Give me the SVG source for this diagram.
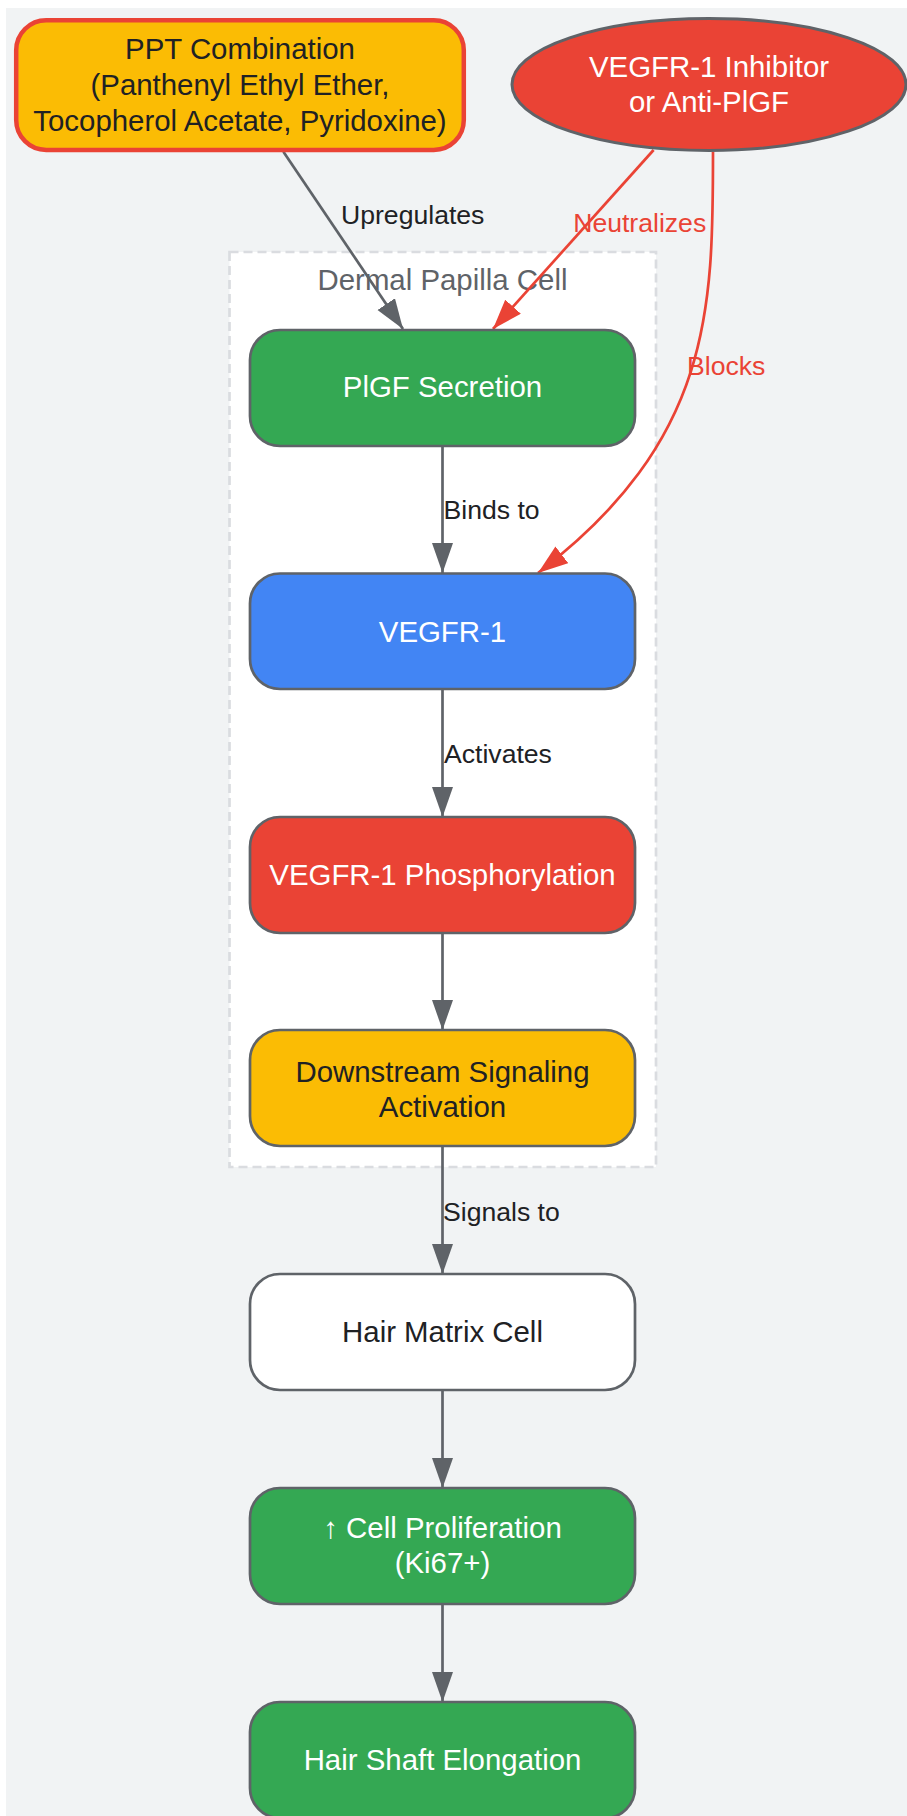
<svg xmlns="http://www.w3.org/2000/svg" width="907" height="1816" viewBox="0 0 907 1816">
<style>
.nt{font-family:"Liberation Sans",Arial,Helvetica,sans-serif;font-size:29.4px;text-anchor:middle}
.el{font-family:"Liberation Sans",Arial,Helvetica,sans-serif;font-size:26.6px;fill:#202124}
.w{fill:#ffffff}.d{fill:#202124}
.node{stroke:#5f6368;stroke-width:2.7}
.e{fill:none;stroke:#5f6368;stroke-width:2.7}
.r{fill:none;stroke:#ea4335;stroke-width:2.7}
</style>
<defs>
<marker id="ag" markerUnits="userSpaceOnUse" markerWidth="32" markerHeight="22" refX="30" refY="10.5" orient="auto">
<path d="M0,0 L30,10.5 L0,21 Z" fill="#5f6368"/>
</marker>
<marker id="ar" markerUnits="userSpaceOnUse" markerWidth="32" markerHeight="22" refX="30" refY="10.5" orient="auto">
<path d="M0,0 L30,10.5 L0,21 Z" fill="#ea4335"/>
</marker>
</defs>
<rect x="0" y="0" width="907" height="1816" fill="#ffffff"/>
<rect x="6" y="8" width="901" height="1808" fill="#f1f3f4"/>
<g id="cluster-dermal">
<rect x="229.5" y="252" width="426.5" height="915" fill="#ffffff" stroke="#dadce0" stroke-width="2.7" stroke-dasharray="9,5"/>
<text x="442.5" y="290" class="nt" fill="#5f6368">Dermal Papilla Cell</text>
</g>
<g id="edges">
<path class="e" d="M283.4,151.7 L403,329" marker-end="url(#ag)"/>
<path class="r" d="M653.6,150 L493,329" marker-end="url(#ar)"/>
<path class="r" d="M713,151.7 C713,310 712,440 538,573" marker-end="url(#ar)"/>
<path class="e" d="M442.5,446 L442.5,573" marker-end="url(#ag)"/>
<path class="e" d="M442.5,689 L442.5,817" marker-end="url(#ag)"/>
<path class="e" d="M442.5,933 L442.5,1030" marker-end="url(#ag)"/>
<path class="e" d="M442.5,1146 L442.5,1274" marker-end="url(#ag)"/>
<path class="e" d="M442.5,1390 L442.5,1488" marker-end="url(#ag)"/>
<path class="e" d="M442.5,1604 L442.5,1702" marker-end="url(#ag)"/>
<text x="341" y="224" class="el">Upregulates</text>
<text x="639.7" y="231.7" class="el" style="fill:#ea4335;text-anchor:middle">Neutralizes</text>
<text x="687" y="375" class="el" style="fill:#ea4335">Blocks</text>
<text x="443.5" y="519.3" class="el">Binds to</text>
<text x="444" y="763" class="el">Activates</text>
<text x="443" y="1220.7" class="el">Signals to</text>
</g>
<g id="node-ppt">
<rect x="16.2" y="20.2" width="447.6" height="129.8" rx="30" ry="30" fill="#fbbc04" stroke="#ea4335" stroke-width="4.5"/>
<text class="nt d" x="240" y="59.3">PPT Combination</text>
<text class="nt d" x="240" y="95">(Panthenyl Ethyl Ether,</text>
<text class="nt d" x="240" y="130.5">Tocopherol Acetate, Pyridoxine)</text>
</g>
<g id="node-inhibitor">
<ellipse cx="709" cy="84.5" rx="197" ry="66" fill="#ea4335" stroke="#5f6368" stroke-width="3"/>
<text class="nt w" x="709" y="76.7">VEGFR-1 Inhibitor</text>
<text class="nt w" x="709" y="111.7">or Anti-PlGF</text>
</g>
<g id="node-plgf">
<rect class="node" x="250" y="330" width="385" height="116" rx="30" ry="30" fill="#34a853"/>
<text class="nt w" x="442.5" y="397">PlGF Secretion</text>
</g>
<g id="node-vegfr1">
<rect class="node" x="250" y="573.5" width="385" height="115.5" rx="30" ry="30" fill="#4285f4"/>
<text class="nt w" x="442.5" y="641.5">VEGFR-1</text>
</g>
<g id="node-phos">
<rect class="node" x="250" y="817" width="385" height="116" rx="30" ry="30" fill="#ea4335"/>
<text class="nt w" x="442.5" y="885">VEGFR-1 Phosphorylation</text>
</g>
<g id="node-downstream">
<rect class="node" x="250" y="1030" width="385" height="116" rx="30" ry="30" fill="#fbbc04"/>
<text class="nt d" x="442.5" y="1081.8">Downstream Signaling</text>
<text class="nt d" x="442.5" y="1117.2">Activation</text>
</g>
<g id="node-matrix">
<rect class="node" x="250" y="1274" width="385" height="116" rx="30" ry="30" fill="#ffffff"/>
<text class="nt d" x="442.5" y="1342">Hair Matrix Cell</text>
</g>
<g id="node-prolif">
<rect class="node" x="250" y="1488" width="385" height="116" rx="30" ry="30" fill="#34a853"/>
<text class="nt w" x="442.5" y="1538">↑ Cell Proliferation</text>
<text class="nt w" x="442.5" y="1573">(Ki67+)</text>
</g>
<g id="node-shaft">
<rect class="node" x="250" y="1702" width="385" height="116" rx="30" ry="30" fill="#34a853"/>
<text class="nt w" x="442.5" y="1770">Hair Shaft Elongation</text>
</g>
</svg>
